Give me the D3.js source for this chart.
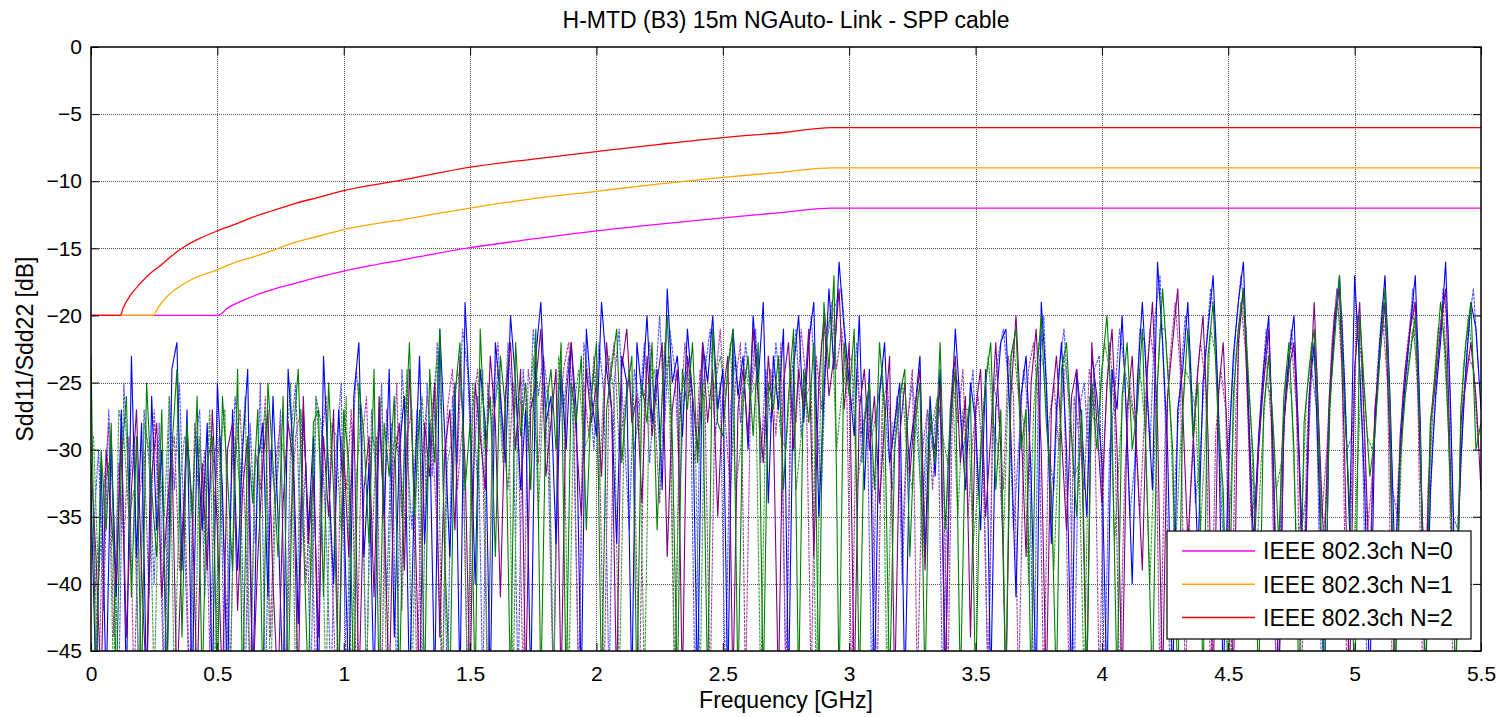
<!doctype html>
<html>
<head>
<meta charset="UTF-8" />
<title>H-MTD (B3) 15m NGAuto- Link - SPP cable</title>
<script src="https://d3js.org/d3.v7.min.js"></script>
<style>
  body { margin: 0; background: #fff; }
  svg { font-family: Arial, "Liberation Sans", sans-serif; display: block; }
</style>
</head>
<body>
<svg id="chart" width="1499" height="717"></svg>
<script>
// sampling grid of the measured traces (GHz): Sdd11 at 0, 0.02, ... and Sdd22 at 0.01, 0.03, ...
const freqStep = 0.02;
const sdd22Offset = 0.01;

// Sdd11 traces (dB), one value per 0.02 GHz from 0 to 5.5 GHz
const traceBlue = [
  -33, -48, -31, -48, -29, -41, -27, -48, -23, -38, -28, -48, -26, -36, -30, -48, -24, -22, -39, -27, -48, -29, -36, -28, -48,
  -25, -33, -48, -27, -39, -30, -24, -48, -31, -28, -41, -26, -35, -48, -24, -30, -43, -27, -36, -29, -48, -23, -32, -40, -27,
  -34, -48, -26, -22, -38, -31, -48, -27, -35, -24, -44, -30, -26, -48, -33, -23, -37, -28, -48, -21, -29, -38, -25, -48, -19,
  -27, -40, -24, -28, -48, -22, -26, -31, -20, -25, -33, -27, -48, -23, -19, -28, -26, -37, -24, -30, -22, -27, -48, -21, -26,
  -29, -19, -24, -27, -37, -23, -25, -48, -22, -26, -20, -28, -24, -33, -18, -25, -23, -29, -21, -26, -48, -22, -25, -20, -27,
  -24, -48, -21, -26, -23, -30, -20, -25, -19, -34, -23, -27, -21, -48, -24, -20, -28, -22, -19, -35, -26, -18, -24, -16, -21,
  -25, -29, -20, -33, -24, -48, -26, -22, -31, -28, -25, -48, -30, -27, -23, -38, -26, -32, -24, -48, -29, -21, -27, -33, -25,
  -28, -36, -24, -48, -27, -22, -21, -29, -41, -26, -23, -32, -48, -19, -25, -37, -27, -22, -30, -48, -24, -28, -35, -23, -26,
  -31, -48, -24, -27, -20, -29, -40, -25, -19, -26, -33, -16, -22, -30, -48, -27, -24, -19, -28, -38, -25, -21, -17, -26, -48,
  -31, -23, -19, -16, -27, -37, -29, -24, -20, -32, -48, -28, -23, -20, -30, -41, -26, -22, -33, -48, -27, -21, -17, -25, -36,
  -17, -24, -33, -48, -28, -22, -17, -26, -39, -30, -25, -21, -17, -28, -48, -33, -26, -22, -16, -27, -42, -31, -24, -19, -21,
  -27
];
const tracePurple = [
  -31, -38, -48, -30, -35, -40, -29, -44, -33, -27, -39, -48, -32, -28, -41, -35, -30, -48, -37, -29, -34, -48, -31, -39, -27,
  -36, -48, -30, -28, -42, -33, -29, -48, -38, -31, -27, -40, -48, -34, -28, -31, -48, -26, -37, -32, -44, -29, -35, -27, -48,
  -30, -38, -27, -48, -33, -29, -41, -26, -35, -48, -31, -28, -39, -24, -34, -48, -28, -32, -25, -44, -30, -27, -36, -23, -31,
  -48, -25, -29, -33, -23, -28, -41, -26, -22, -30, -24, -48, -27, -25, -21, -32, -28, -24, -48, -26, -22, -29, -35, -24, -28,
  -25, -32, -22, -27, -48, -24, -21, -28, -26, -34, -23, -29, -25, -22, -38, -27, -24, -48, -23, -26, -30, -22, -28, -24, -35,
  -26, -23, -48, -27, -24, -29, -21, -26, -31, -23, -28, -48, -25, -22, -30, -24, -27, -21, -38, -25, -20, -26, -23, -18, -27,
  -22, -48, -27, -24, -30, -26, -34, -28, -23, -48, -29, -25, -32, -27, -24, -39, -28, -30, -25, -48, -27, -23, -31, -26, -44,
  -27, -24, -35, -29, -22, -30, -48, -26, -20, -28, -38, -25, -21, -30, -48, -27, -23, -29, -36, -26, -24, -30, -48, -22, -28,
  -34, -25, -21, -30, -48, -27, -23, -31, -39, -24, -19, -28, -48, -26, -22, -18, -27, -37, -30, -24, -20, -29, -48, -26, -22,
  -31, -48, -22, -18, -28, -39, -30, -25, -21, -33, -48, -28, -24, -22, -31, -44, -27, -19, -29, -38, -26, -20, -18, -30, -48,
  -24, -19, -29, -40, -27, -23, -19, -30, -48, -29, -24, -21, -19, -31, -41, -28, -25, -21, -18, -32, -48, -28, -25, -22, -26,
  -33
];
const traceGreen = [
  -23, -48, -30, -36, -28, -48, -31, -26, -41, -29, -48, -25, -33, -38, -27, -48, -30, -24, -44, -28, -35, -26, -48, -31, -29,
  -48, -26, -32, -39, -24, -48, -29, -34, -27, -48, -25, -31, -38, -26, -48, -29, -24, -36, -48, -28, -27, -41, -25, -33, -48,
  -27, -31, -48, -25, -29, -37, -24, -48, -28, -32, -26, -48, -30, -22, -35, -27, -48, -24, -31, -21, -38, -48, -26, -22, -33,
  -28, -48, -21, -30, -26, -38, -23, -27, -48, -22, -29, -25, -33, -21, -48, -27, -24, -30, -22, -48, -25, -28, -23, -36, -26,
  -22, -48, -27, -24, -21, -31, -26, -23, -48, -25, -28, -22, -36, -26, -20, -29, -48, -24, -27, -22, -31, -25, -48, -21, -28,
  -29, -24, -21, -48, -26, -23, -29, -22, -48, -25, -27, -23, -33, -26, -21, -48, -24, -28, -22, -48, -19, -24, -17, -48, -22,
  -26, -21, -48, -28, -25, -33, -22, -27, -48, -30, -26, -24, -38, -28, -25, -48, -27, -31, -22, -36, -28, -24, -48, -29, -26,
  -48, -30, -25, -22, -33, -27, -48, -23, -21, -30, -27, -48, -25, -20, -28, -33, -48, -24, -22, -29, -35, -27, -48, -25, -30,
  -24, -20, -28, -48, -26, -22, -30, -27, -21, -34, -48, -25, -18, -24, -30, -48, -27, -21, -29, -25, -48, -23, -19, -28, -33,
  -48, -26, -21, -18, -25, -31, -48, -27, -23, -29, -37, -26, -22, -30, -48, -28, -24, -21, -30, -48, -27, -22, -17, -27, -34,
  -48, -20, -26, -32, -29, -23, -18, -27, -48, -31, -26, -23, -20, -29, -48, -28, -24, -19, -23, -33, -48, -27, -22, -19, -30,
  -28
];

// Sdd22 traces (dB), one value per 0.02 GHz from 0.01 to 5.49 GHz
const traceBlue22 = [
  -36, -30, -42, -27, -35, -48, -25, -33, -29, -48, -27, -31, -40, -28, -48, -26, -33, -25, -37, -48, -30, -27, -41, -33, -30,
  -29, -48, -35, -26, -31, -48, -28, -37, -25, -48, -30, -34, -27, -48, -29, -25, -38, -31, -48, -26, -28, -36, -48, -30, -25,
  -48, -31, -24, -29, -48, -27, -33, -25, -41, -28, -48, -24, -30, -36, -27, -48, -25, -32, -22, -29, -48, -26, -31, -21, -24,
  -33, -26, -48, -25, -29, -24, -30, -22, -27, -48, -24, -30, -21, -26, -23, -32, -48, -25, -27, -23, -29, -48, -22, -25, -30,
  -22, -26, -48, -25, -21, -29, -36, -24, -27, -22, -31, -26, -20, -28, -21, -24, -33, -25, -23, -48, -27, -24, -21, -29, -25,
  -48, -27, -23, -28, -22, -26, -21, -31, -24, -28, -22, -26, -48, -25, -21, -29, -24, -20, -27, -33, -22, -20, -19, -18, -23,
  -27, -22, -31, -26, -48, -27, -24, -29, -33, -26, -40, -28, -25, -29, -35, -27, -30, -26, -48, -31, -24, -25, -30, -28, -24,
  -33, -29, -48, -26, -23, -21, -25, -36, -30, -24, -27, -48, -24, -20, -30, -33, -24, -21, -27, -48, -27, -25, -31, -24, -23,
  -48, -30, -26, -21, -24, -35, -31, -21, -22, -30, -20, -17, -27, -48, -32, -25, -20, -23, -34, -30, -23, -18, -21, -33, -40,
  -27, -21, -17, -21, -32, -33, -26, -21, -26, -48, -33, -25, -21, -25, -36, -33, -24, -27, -48, -31, -23, -18, -20, -30, -29,
  -20, -28, -48, -32, -24, -19, -21, -33, -35, -27, -23, -18, -22, -40, -38, -29, -24, -18, -21, -35, -36, -27, -21, -18, -24
];
const tracePurple22 = [
  -35, -48, -33, -28, -44, -31, -37, -29, -48, -34, -30, -41, -27, -36, -48, -32, -29, -39, -33, -48, -28, -35, -30, -45, -33,
  -29, -39, -48, -31, -27, -35, -48, -30, -33, -26, -44, -31, -28, -48, -35, -29, -27, -40, -33, -48, -30, -26, -37, -48, -29,
  -33, -27, -48, -30, -26, -38, -29, -48, -27, -33, -25, -42, -29, -27, -48, -31, -26, -29, -36, -48, -27, -24, -33, -28, -48,
  -27, -24, -31, -48, -26, -22, -29, -33, -25, -28, -48, -24, -27, -31, -23, -26, -48, -29, -24, -22, -27, -48, -25, -29, -23,
  -28, -48, -25, -22, -30, -27, -24, -31, -48, -26, -22, -27, -34, -25, -23, -48, -28, -22, -26, -31, -24, -27, -48, -25, -21,
  -28, -33, -25, -22, -48, -26, -23, -30, -27, -24, -29, -22, -48, -26, -28, -21, -25, -48, -23, -27, -22, -19, -24, -21, -25,
  -48, -24, -29, -26, -31, -48, -27, -25, -30, -26, -37, -28, -24, -48, -30, -27, -33, -26, -29, -48, -25, -28, -24, -35, -29,
  -26, -31, -48, -25, -27, -33, -23, -26, -48, -30, -24, -22, -27, -48, -28, -25, -30, -24, -48, -26, -29, -33, -24, -26, -48,
  -29, -22, -27, -48, -32, -25, -28, -35, -27, -21, -24, -48, -29, -23, -19, -24, -48, -33, -26, -22, -25, -48, -29, -24, -27,
  -48, -27, -19, -23, -35, -33, -27, -23, -28, -48, -31, -25, -22, -27, -48, -30, -22, -24, -35, -30, -22, -18, -24, -48, -31,
  -20, -24, -36, -32, -25, -20, -25, -48, -33, -26, -22, -19, -26, -48, -33, -27, -22, -19, -26, -48, -35, -26, -23, -24, -30
];
const traceGreen22 = [
  -29, -40, -33, -31, -48, -27, -29, -35, -33, -48, -28, -30, -48, -31, -35, -26, -48, -33, -29, -31, -48, -29, -37, -27, -48,
  -30, -27, -48, -29, -33, -26, -48, -31, -30, -27, -48, -34, -29, -31, -25, -48, -27, -31, -40, -26, -32, -48, -28, -29, -36,
  -26, -48, -32, -27, -48, -29, -30, -26, -48, -30, -29, -35, -24, -48, -30, -26, -33, -27, -23, -48, -31, -29, -24, -27, -48,
  -25, -33, -24, -48, -28, -25, -31, -23, -48, -26, -27, -29, -23, -35, -25, -26, -48, -23, -26, -48, -27, -24, -30, -29, -24,
  -33, -25, -23, -26, -48, -28, -24, -30, -27, -48, -25, -24, -30, -22, -27, -48, -26, -25, -24, -28, -48, -23, -27, -25, -23,
  -26, -22, -33, -30, -24, -26, -25, -48, -27, -26, -25, -29, -30, -24, -33, -29, -26, -25, -48, -22, -21, -20, -30, -26, -24,
  -23, -33, -30, -26, -29, -27, -24, -48, -28, -28, -25, -31, -33, -26, -38, -29, -28, -26, -29, -31, -26, -35, -27, -27, -37,
  -33, -27, -23, -28, -30, -37, -25, -22, -26, -28, -40, -27, -22, -24, -30, -39, -29, -23, -26, -32, -31, -48, -26, -28, -27,
  -22, -24, -37, -30, -24, -26, -28, -24, -28, -40, -29, -21, -21, -27, -38, -30, -24, -25, -27, -36, -29, -21, -23, -30, -40,
  -33, -23, -19, -21, -28, -39, -31, -25, -26, -33, -31, -24, -26, -37, -35, -26, -22, -25, -38, -33, -24, -19, -22, -30, -40,
  -32, -23, -29, -30, -26, -20, -22, -36, -38, -28, -24, -21, -24, -37, -36, -26, -21, -21, -28, -40, -35, -24, -20, -24, -29
];

// IEEE 802.3ch return loss limit lines: [GHz, dB]
const limitN0 = [
  [0, -20], [0.5, -20], [0.545, -19.4], [0.6, -18.9], [0.665, -18.4], [0.73, -18.0], [0.8, -17.65], [0.9, -17.15],
  [1.0, -16.7], [1.25, -15.8], [1.5, -14.95], [1.75, -14.3], [2.0, -13.7], [2.25, -13.2], [2.5, -12.73],
  [2.75, -12.3], [2.93, -12.0], [5.5, -12]
];
const limitN1 = [
  [0, -20], [0.246, -20], [0.266, -19.4], [0.306, -18.5], [0.346, -17.9], [0.4, -17.3], [0.5, -16.6], [0.57, -16.05],
  [0.64, -15.65], [0.72, -15.15], [0.8, -14.6], [0.9, -14.1], [1.0, -13.6], [1.25, -12.8], [1.5, -12.0], [1.75, -11.3],
  [2.0, -10.75], [2.25, -10.2], [2.5, -9.72], [2.75, -9.3], [2.93, -9.0], [5.5, -9]
];
const limitN2 = [
  [0, -20], [0.117, -20], [0.126, -19.5], [0.16, -18.4], [0.193, -17.65], [0.233, -16.9], [0.28, -16.2], [0.32, -15.55],
  [0.372, -14.85], [0.426, -14.3], [0.5, -13.7], [0.572, -13.2], [0.638, -12.7], [0.718, -12.2], [0.8, -11.7],
  [0.9, -11.2], [1.0, -10.7], [1.25, -9.85], [1.5, -8.95], [1.75, -8.35], [2.0, -7.79], [2.25, -7.25], [2.5, -6.75],
  [2.75, -6.35], [2.93, -6.0], [5.5, -6]
];

const xTicks = [0, 0.5, 1, 1.5, 2, 2.5, 3, 3.5, 4, 4.5, 5, 5.5];
const yTicks = [0, -5, -10, -15, -20, -25, -30, -35, -40, -45];

const legendLabels = ["IEEE 802.3ch N=0", "IEEE 802.3ch N=1", "IEEE 802.3ch N=2"];
const legendColors = ["#ff00ff", "#ffa500", "#ff0000"];

const svg = d3.select("#chart");
const width = +svg.attr("width");
const height = +svg.attr("height");
const margin = { top: 47, right: 18, bottom: 66, left: 91 };

const x = d3.scaleLinear().domain([0, 5.5]).range([margin.left, width - margin.right]);
const y = d3.scaleLinear().domain([-45, 0]).range([height - margin.bottom, margin.top]);

svg.append("rect").attr("width", width).attr("height", height).attr("fill", "#fff");

svg.append("clipPath").attr("id", "plot-clip")
  .append("rect")
  .attr("x", margin.left).attr("y", margin.top)
  .attr("width", x(5.5) - x(0)).attr("height", y(-45) - y(0));

// grid
const grid = svg.append("g").attr("stroke", "#555").attr("stroke-width", 1).attr("stroke-dasharray", "1,1");
grid.selectAll(".gx").data(xTicks.slice(1, -1)).join("line")
  .attr("x1", (d) => Math.round(x(d)) + 0.5).attr("x2", (d) => Math.round(x(d)) + 0.5)
  .attr("y1", y(0)).attr("y2", y(-45));
grid.selectAll(".gy").data(yTicks.slice(1, -1)).join("line")
  .attr("y1", (d) => Math.round(y(d)) + 0.5).attr("y2", (d) => Math.round(y(d)) + 0.5)
  .attr("x1", x(0)).attr("x2", x(5.5));

// measured traces
const plot = svg.append("g").attr("clip-path", "url(#plot-clip)");

const traces = [
  { values: traceBlue22, start: sdd22Offset, color: "#5050ff", dash: "3,1" },
  { values: tracePurple22, start: sdd22Offset, color: "#a040a0", dash: "3,1" },
  { values: traceGreen22, start: sdd22Offset, color: "#3a9a3a", dash: "3,1" },
  { values: traceBlue, start: 0, color: "#0000ff", dash: null },
  { values: tracePurple, start: 0, color: "#800080", dash: null },
  { values: traceGreen, start: 0, color: "#008000", dash: null },
];
plot.selectAll("path.trace").data(traces).join("path")
  .attr("class", "trace")
  .attr("fill", "none")
  .attr("stroke", (d) => d.color)
  .attr("stroke-width", 1.1)
  .attr("stroke-dasharray", (d) => d.dash)
  .attr("d", (d) =>
    d3.line()
      .x((v, i) => x(d.start + i * freqStep))
      .y((v) => y(v))(d.values)
  );

// limit lines
const limitLine = d3.line()
  .x((d) => x(d[0]))
  .y((d) => y(d[1]))
  .curve(d3.curveMonotoneX);

const limits = [limitN0, limitN1, limitN2];
plot.selectAll("path.limit").data(limits).join("path")
  .attr("class", "limit")
  .attr("fill", "none")
  .attr("stroke", (d, i) => legendColors[i])
  .attr("stroke-width", 1.3)
  .attr("d", limitLine);

// axes, MATLAB style: ticks inside on all four sides
const tickLen = 8;
const styleAxis = (g) => {
  g.select(".domain").remove();
  g.selectAll("line").attr("stroke", "#000");
  g.selectAll("text").attr("font-size", 21).attr("fill", "#000");
};

svg.append("g")
  .attr("transform", `translate(0,${y(-45)})`)
  .call(d3.axisBottom(x).tickValues(xTicks).tickSizeInner(-tickLen).tickSizeOuter(0).tickPadding(15).tickFormat(d3.format("")))
  .call(styleAxis);

svg.append("g")
  .attr("transform", `translate(0,${y(0)})`)
  .call(d3.axisTop(x).tickValues(xTicks).tickSizeInner(-tickLen).tickSizeOuter(0).tickFormat(""))
  .call(styleAxis);

svg.append("g")
  .attr("transform", `translate(${x(0)},0)`)
  .call(d3.axisLeft(y).tickValues(yTicks).tickSizeInner(-tickLen).tickSizeOuter(0).tickPadding(9).tickFormat(d3.format("")))
  .call(styleAxis);

svg.append("g")
  .attr("transform", `translate(${x(5.5)},0)`)
  .call(d3.axisRight(y).tickValues(yTicks).tickSizeInner(-tickLen).tickSizeOuter(0).tickFormat(""))
  .call(styleAxis);

// axes box
svg.append("rect")
  .attr("x", x(0)).attr("y", y(0))
  .attr("width", x(5.5) - x(0)).attr("height", y(-45) - y(0))
  .attr("fill", "none").attr("stroke", "#000").attr("stroke-width", 1.5);

// title and labels
svg.append("text")
  .attr("x", (x(0) + x(5.5)) / 2).attr("y", 28)
  .attr("text-anchor", "middle").attr("font-size", 23)
  .text("H-MTD (B3) 15m NGAuto- Link - SPP cable");

svg.append("text")
  .attr("x", (x(0) + x(5.5)) / 2).attr("y", 708)
  .attr("text-anchor", "middle").attr("font-size", 23)
  .text("Frequency [GHz]");

svg.append("text")
  .attr("transform", `translate(33,${(y(0) + y(-45)) / 2}) rotate(-90)`)
  .attr("text-anchor", "middle").attr("font-size", 23)
  .text("Sdd11/Sdd22 [dB]");

// legend
const legend = svg.append("g").attr("transform", "translate(1167,531)");
legend.append("rect")
  .attr("width", 304).attr("height", 108)
  .attr("fill", "#fff").attr("stroke", "#000").attr("stroke-width", 1.2);
const rows = legend.selectAll("g.row").data(legendLabels).join("g")
  .attr("class", "row")
  .attr("transform", (d, i) => `translate(0,${20 + i * 33.3})`);
rows.append("line")
  .attr("x1", 15).attr("x2", 88)
  .attr("stroke", (d, i) => legendColors[i])
  .attr("stroke-width", 1.5);
rows.append("text")
  .attr("x", 96).attr("dy", "0.36em")
  .attr("font-size", 23)
  .text((d) => d);
</script>
</body>
</html>
